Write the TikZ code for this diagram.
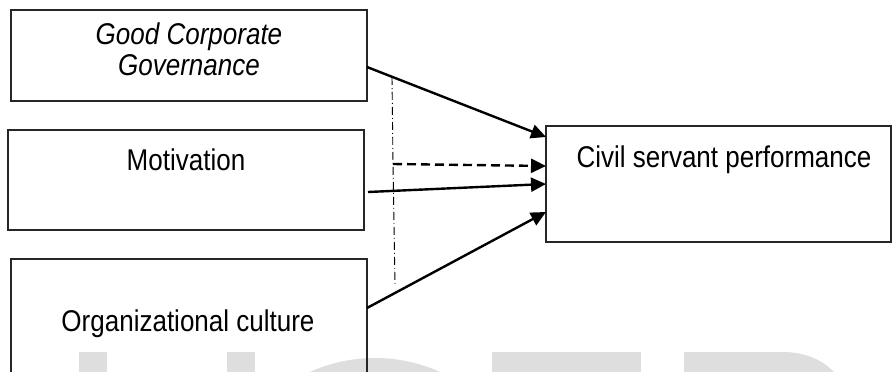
\documentclass[tikz,border=0pt]{standalone}
\usepackage{fontspec}
\setmainfont[FakeStretch=0.867]{Liberation Sans}
\usetikzlibrary{arrows.meta}
\definecolor{wm}{HTML}{DEDEDE}
\begin{document}
\begin{tikzpicture}[x=1pt,y=-1pt,
  box/.style={draw=black!85, line width=1.1pt, rectangle, anchor=north west, inner sep=0pt, outer sep=0pt},
  txt/.style={font=\fontsize{30}{30}\selectfont, anchor=base, inner sep=0pt},
  arr/.style={line width=2.4pt, -{Triangle[length=15pt,width=14pt]}},
  dasharr/.style={arr, dash pattern=on 9pt off 5pt},
  dashdot/.style={line width=0.9pt, dash pattern=on 8pt off 3pt on 1pt off 3pt}]
\useasboundingbox (0,0) rectangle (892,372);
\begin{scope}
\clip (0,0) rectangle (892,372);
% watermark
\fill[wm] (79,352) rectangle (107,380);
\fill[wm] (227,352) rectangle (255,380);
\fill[wm, even odd rule] (375,516) circle[radius=158] (375,516) circle[radius=130];
\fill[wm] (492,352) rectangle (641,380);
\fill[wm] (684,352) -- (783,352) .. controls (810,352) and (830,364) .. (840,380) -- (684,380) -- cycle;
% boxes
\node[box, minimum width=356pt, minimum height=91pt] (gcg) at (11,10) {};
\node[box, minimum width=356pt, minimum height=100pt] (mot) at (8,130) {};
\node[box, minimum width=356pt, minimum height=140pt] (org) at (11,259) {};
\node[box, minimum width=345pt, minimum height=116pt] (csp) at (546,126) {};
\end{scope}
% texts
\node[txt] (tgcg1) at (189,45) {\itshape Good Corporate};
\node[txt] (tgcg2) at (189,75) {\itshape Governance};
\node[txt] (tmot) at (186,170) {Motivation};
\node[txt] (torg) at (188,331) {Organizational culture};
\node[txt] (tcsp) at (724,167) {Civil servant performance};
% connectors
\coordinate (dtop) at (392,77);
\coordinate (dmid) at (393,164);
\coordinate (dbot) at (395,285);
\draw[dashdot] (dtop) -- (dmid) -- (dbot);
\draw[arr] ([yshift=-57pt]gcg.north east) -- ([yshift=-11pt]csp.north west);
\draw[dasharr] (dmid) -- ([yshift=-40pt]csp.north west);
\draw[arr] ([yshift=-62pt,xshift=4pt]mot.north east) -- ([yshift=-58pt]csp.north west);
\draw[arr] ([yshift=-49pt]org.north east) -- ([yshift=-86pt]csp.north west);
\end{tikzpicture}
\end{document}
